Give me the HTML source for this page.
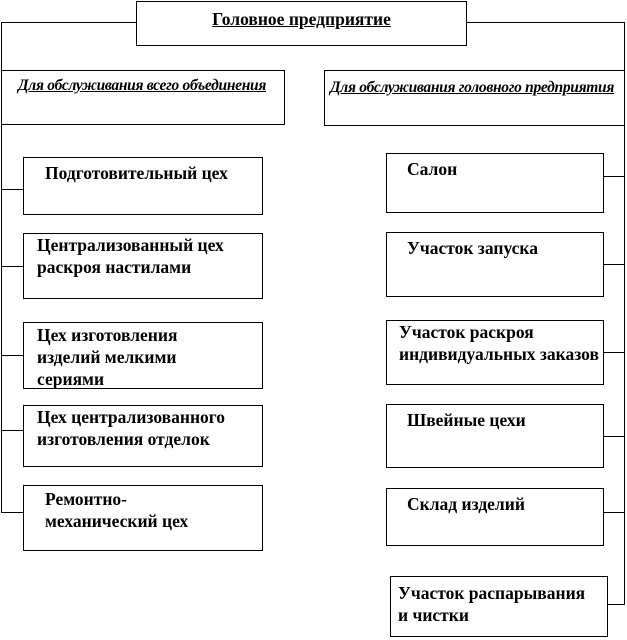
<!DOCTYPE html>
<html><head><meta charset="utf-8"><style>
body{margin:0;width:627px;height:640px;background:#fff;position:relative;overflow:hidden;font-family:"Liberation Serif",serif;}
.b{position:absolute;border:1px solid #000;box-sizing:border-box;font-weight:bold;font-size:17.5px;line-height:22px;color:#000;white-space:nowrap;}
.l{position:absolute;background:#000;}
</style></head><body>
<div class="l" style="left:1px;top:22px;width:135px;height:1px"></div>
<div class="l" style="left:466px;top:22px;width:159px;height:1px"></div>
<div class="l" style="left:1px;top:22px;width:1px;height:491px"></div>
<div class="l" style="left:624px;top:22px;width:1px;height:583px"></div>
<div class="l" style="left:1px;top:189px;width:22px;height:1px"></div>
<div class="l" style="left:1px;top:266px;width:22px;height:1px"></div>
<div class="l" style="left:1px;top:355px;width:22px;height:1px"></div>
<div class="l" style="left:1px;top:430px;width:22px;height:1px"></div>
<div class="l" style="left:1px;top:512px;width:22px;height:1px"></div>
<div class="l" style="left:603px;top:176px;width:22px;height:1px"></div>
<div class="l" style="left:603px;top:264px;width:22px;height:1px"></div>
<div class="l" style="left:603px;top:352px;width:22px;height:1px"></div>
<div class="l" style="left:603px;top:436px;width:22px;height:1px"></div>
<div class="l" style="left:603px;top:512px;width:22px;height:1px"></div>
<div class="l" style="left:607px;top:604px;width:18px;height:1px"></div>

<div class="b" style="left:136px;top:1px;width:331px;height:45px;text-align:center;padding-top:6px"><u>Головное предприятие</u></div>
<div class="b" style="left:1px;top:70px;width:284px;height:55px;font-style:italic;font-size:15.5px;letter-spacing:-0.3px;padding:4px 0 0 16px"><u>Для обслуживания всего объединения</u></div>
<div class="b" style="left:324px;top:70px;width:301px;height:56px;font-style:italic;font-size:15.5px;letter-spacing:-0.3px;padding:6px 0 0 5px;overflow:hidden"><u>Для обслуживания головного предприятия</u></div>

<div class="b" style="left:23px;top:157px;width:240px;height:58px;padding:4px 0 0 21px">Подготовительный цех</div>
<div class="b" style="left:23px;top:233px;width:240px;height:66px;padding:0 0 0 13px">Централизованный цех<br>раскроя настилами</div>
<div class="b" style="left:23px;top:322px;width:240px;height:67px;padding:1px 0 0 13px">Цех изготовления<br>изделий мелкими<br>сериями</div>
<div class="b" style="left:23px;top:405px;width:240px;height:62px;padding:0 0 0 13px">Цех централизованного<br>изготовления отделок</div>
<div class="b" style="left:23px;top:485px;width:240px;height:66px;padding:2px 0 0 21px">Ремонтно-<br>механический цех</div>

<div class="b" style="left:386px;top:153px;width:218px;height:60px;padding:4px 0 0 20px">Салон</div>
<div class="b" style="left:386px;top:232px;width:218px;height:65px;padding:4px 0 0 20px">Участок запуска</div>
<div class="b" style="left:386px;top:320px;width:218px;height:65px;padding:0 0 0 12px">Участок раскроя<br>индивидуальных заказов</div>
<div class="b" style="left:386px;top:404px;width:218px;height:64px;padding:4px 0 0 20px">Швейные цехи</div>
<div class="b" style="left:386px;top:488px;width:218px;height:58px;padding:4px 0 0 20px">Склад изделий</div>
<div class="b" style="left:390px;top:576px;width:218px;height:61px;padding:5px 0 0 7px">Участок распарывания<br>и чистки</div>
</body></html>
